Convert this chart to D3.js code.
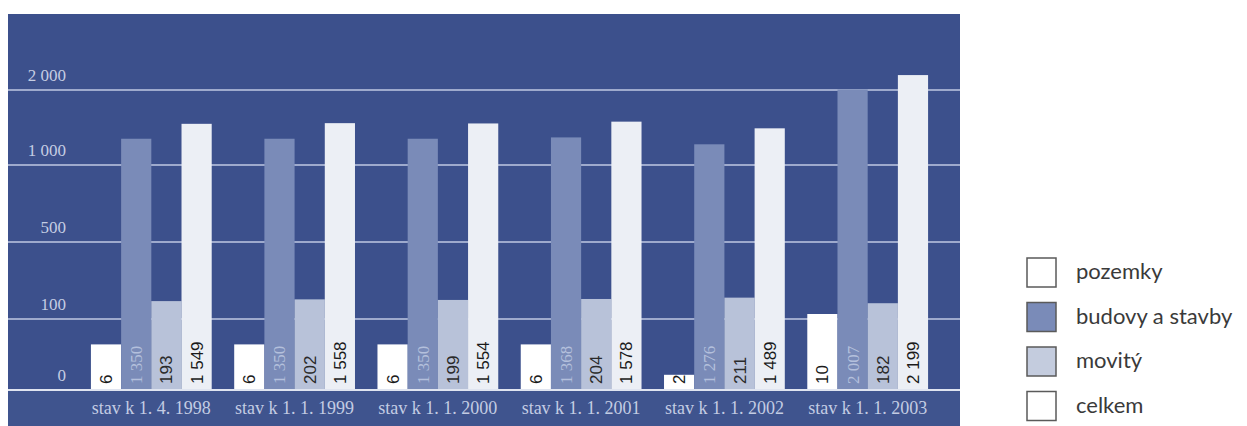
<!DOCTYPE html>
<html lang="cs">
<head>
<meta charset="utf-8">
<script src="https://cdn.jsdelivr.net/npm/d3@7"></script>
<style>
  body { margin: 0; background: #fff; }
  svg { display: block; }
</style>
</head>
<body>
<div id="chart"></div>
<script>
// data
const categories = ["stav k 1. 4. 1998", "stav k 1. 1. 1999", "stav k 1. 1. 2000",
                    "stav k 1. 1. 2001", "stav k 1. 1. 2002", "stav k 1. 1. 2003"];
const seriesNames = ["pozemky", "budovy a stavby", "movitý", "celkem"];
const pozemky = [6, 6, 6, 6, 2, 10];
const budovy = [1350, 1350, 1350, 1368, 1276, 2007];
const movity = [193, 202, 199, 204, 211, 182];
const celkem = [1549, 1558, 1554, 1578, 1489, 2199];
const yTicks = [0, 100, 500, 1000, 2000];
const yTickLabels = ["0", "100", "500", "1 000", "2 000"];

const W = 1247, H = 426;
const panel = { left: 8, right: 960, top: 14, bottom: 426 };
const base = 390;

const svg = d3.select("#chart").append("svg")
    .attr("width", W).attr("height", H);

// panel background
svg.append("rect")
    .attr("x", panel.left).attr("y", panel.top)
    .attr("width", panel.right - panel.left).attr("height", panel.bottom - panel.top)
    .attr("fill", "#3c508c");
svg.append("rect")
    .attr("x", panel.left).attr("y", base)
    .attr("width", panel.right - panel.left).attr("height", panel.bottom - base)
    .attr("fill", "#3f548e");

// the source axis is broken: equal steps between 0, 100, 500, 1000, 2000
const y = d3.scaleLinear()
    .domain(yTicks)
    .range([base, 319, 242, 165, 90]);
// land values are drawn on their own exaggerated scale
const yPoz = d3.scaleLinear().domain([0, 10]).range([base, 314]);

const x = d3.scaleBand()
    .domain(categories)
    .range([67, 952])
    .paddingInner(0.157)
    .paddingOuter(0.167);
const xs = d3.scaleBand()
    .domain(seriesNames)
    .range([0, x.bandwidth()]);

// gridlines
svg.append("g").selectAll("line")
    .data(yTicks.slice(1))
    .join("line")
    .attr("x1", panel.left).attr("x2", panel.right)
    .attr("y1", d => y(d)).attr("y2", d => y(d))
    .attr("stroke", "#9eaacd").attr("stroke-width", 2);

// y tick labels
svg.append("g").selectAll("text")
    .data(yTicks)
    .join("text")
    .attr("x", 66)
    .attr("y", d => y(d) - 9)
    .attr("text-anchor", "end")
    .attr("font-family", "Liberation Serif, serif")
    .attr("font-size", 17)
    .attr("fill", "#c5cde3")
    .text((d, i) => yTickLabels[i]);

const colors = {
    "pozemky": "#ffffff",
    "budovy a stavby": "#7a8bb8",
    "movitý": "#b8c2d9",
    "celkem": "#eceff5"
};
const labelColors = {
    "pozemky": "#1a1a1a",
    "budovy a stavby": "#b4c0dc",
    "movitý": "#2a2a2a",
    "celkem": "#1a1a1a"
};

const rows = categories.map((c, i) => ({
    cat: c,
    vals: [
        { key: "pozemky", v: pozemky[i] },
        { key: "budovy a stavby", v: budovy[i] },
        { key: "movitý", v: movity[i] },
        { key: "celkem", v: celkem[i] }
    ]
}));
const yOf = d => d.key === "pozemky" ? yPoz(d.v) : y(d.v);
const fmt = v => d3.format(",")(v).replace(",", " ");

const groups = svg.append("g").selectAll("g")
    .data(rows)
    .join("g")
    .attr("transform", d => `translate(${x(d.cat)},0)`);

groups.selectAll("rect")
    .data(d => d.vals)
    .join("rect")
    .attr("x", d => xs(d.key))
    .attr("y", d => yOf(d))
    .attr("width", xs.bandwidth())
    .attr("height", d => base - yOf(d))
    .attr("fill", d => colors[d.key]);

groups.selectAll("text")
    .data(d => d.vals)
    .join("text")
    .attr("transform", d => `translate(${xs(d.key) + xs.bandwidth() / 2 + 6},${base - 6}) rotate(-90)`)
    .attr("font-family", d => d.key === "budovy a stavby" ? "Liberation Serif, serif" : "Liberation Sans, Arial, sans-serif")
    .attr("font-size", 17)
    .attr("fill", d => labelColors[d.key])
    .text(d => fmt(d.v));

// baseline
svg.append("line")
    .attr("x1", panel.left).attr("x2", panel.right)
    .attr("y1", base).attr("y2", base)
    .attr("stroke", "#dfe4f0").attr("stroke-width", 2);

// x axis labels
svg.append("g").selectAll("text")
    .data(categories)
    .join("text")
    .attr("x", d => x(d) + x.bandwidth() / 2)
    .attr("y", 414)
    .attr("text-anchor", "middle")
    .attr("font-family", "Liberation Serif, serif")
    .attr("font-size", 18)
    .attr("fill", "#c3cce3")
    .text(d => d);

// legend
const legend = svg.append("g").attr("transform", "translate(1027,258)");
const li = legend.selectAll("g")
    .data(seriesNames)
    .join("g")
    .attr("transform", (d, i) => `translate(0,${i * 44.5})`);
li.append("rect")
    .attr("x", 0).attr("y", 0)
    .attr("width", 29).attr("height", 29)
    .attr("fill", d => d === "budovy a stavby" ? "#7a8bb8" : d === "movitý" ? "#c4ccde" : "#ffffff")
    .attr("stroke", "#5a5a5a").attr("stroke-width", 1.5);
li.append("text")
    .attr("x", 49).attr("y", 21)
    .attr("font-family", "Lato, Open Sans, sans-serif")
    .attr("font-size", 22)
    .attr("fill", "#3a3a3a")
    .text(d => d);
</script>
</body>
</html>
